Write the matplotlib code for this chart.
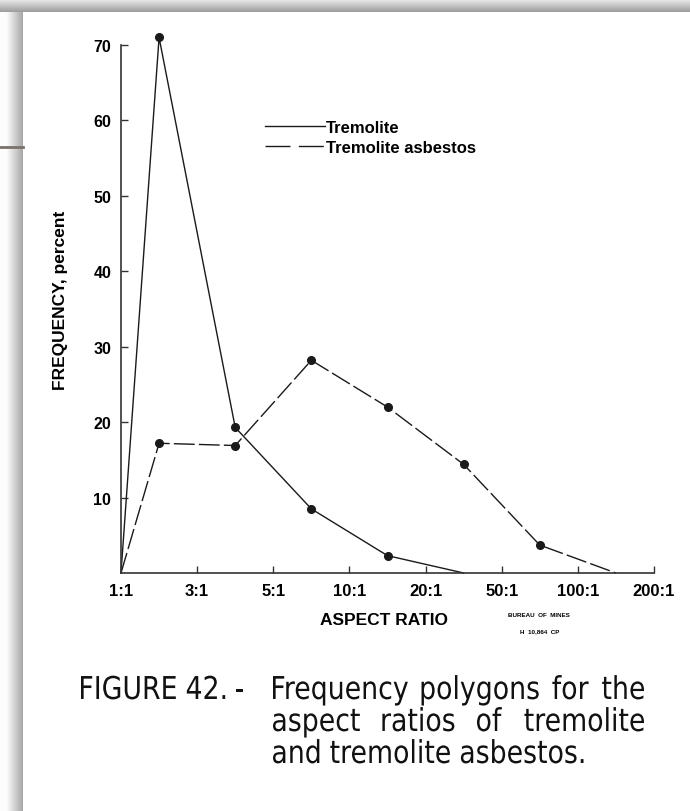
import numpy as np
import matplotlib.pyplot as plt
from matplotlib.lines import Line2D
from matplotlib.textpath import TextPath
from matplotlib.patches import PathPatch
from matplotlib.font_manager import FontProperties
import matplotlib.transforms as mtransforms

# aspect ratio classes along the x axis
ratio_labels = ['1:1', '3:1', '5:1', '10:1', '20:1', '50:1', '100:1', '200:1']

# polygon vertices sit at class midpoints (index units), closed to zero at the ends
tremolite_x = [0, 0.5, 1.5, 2.5, 3.5, 4.5]
tremolite_y = [0, 71.0, 19.3, 8.5, 2.3, 0]

asbestos_x = [0, 0.5, 1.5, 2.5, 3.5, 4.5, 5.5, 6.5]
asbestos_y = [0, 17.2, 16.9, 28.2, 22.0, 14.4, 3.7, 0]

yticks = [10, 20, 30, 40, 50, 60, 70]

caption = [
    ('FIGURE 42. -', 81, 700, None),
    ('Frequency polygons for the', 273, 700, 644),
    ('aspect ratios of tremolite', 273, 732, 644),
    ('and tremolite asbestos.', 273, 764, None),
]

ink = '#1a1a1a'
bold = dict(fontweight='bold', family='Liberation Sans')
W, H = 690, 812
fig = plt.figure(figsize=(W / 100, H / 100), dpi=100)

# page background in pixel coordinates, with the scan shadow on top and left
bg = fig.add_axes([0, 0, 1, 1], zorder=-10)
bg.set_xlim(0, W)
bg.set_ylim(H, 0)
bg.axis('off')
img = np.ones((H, W))
top = 13
left = 23
img[:top, :] = np.linspace(0.92, 0.62, top)[:, None]
grad = np.linspace(0.99, 0.66, left - 6)
img[top:, 6:left] = grad[None, :]
img[top:, :6] = 0.99
bg.imshow(img, cmap='gray', vmin=0, vmax=1, extent=(0, W, H, 0), aspect='auto',
          interpolation='bilinear')
bg.plot([0, left], [148, 148], color='#7a7068', lw=2)

# caption set in a condensed face: glyph outlines squeezed horizontally
cap_font = FontProperties(family='DejaVu Sans')
em = 31.5
squeeze = 0.85


def caption_line(text, x0, baseline, x1=None, gap=11):
    words = text.split(' ')
    paths = [TextPath((0, 0), w, size=em, prop=cap_font) for w in words]
    widths = [p.get_extents().width * squeeze for p in paths]
    if x1 is not None and len(words) > 1:
        gap = (x1 - x0 - sum(widths)) / (len(words) - 1)
    x = x0
    for p, w in zip(paths, widths):
        ext = p.get_extents()
        tr = (mtransforms.Affine2D().translate(-ext.x0, 0).scale(squeeze, -1)
              .translate(x, baseline))
        bg.add_patch(PathPatch(tr.transform_path(p), facecolor='#111111', lw=0))
        x += w + gap


for text, x0, base, x1 in caption:
    caption_line(text, x0, base, x1)

ax = fig.add_axes([121 / W, 1 - 574 / H, 533 / W, 528 / H])
ax.set_xlim(0, 7)
ax.set_ylim(0, 70)

ax.plot(tremolite_x, tremolite_y, color=ink, lw=1.0, clip_on=False)
ax.plot(asbestos_x, asbestos_y, color=ink, lw=1.0, dashes=(15, 3), clip_on=False)
# markers only on the nonzero vertices
ax.plot(tremolite_x[1:-1], tremolite_y[1:-1], 'o', color=ink, ms=5.5, clip_on=False)
ax.plot(asbestos_x[1:-1], asbestos_y[1:-1], 'o', color=ink, ms=5.5, clip_on=False)

for side in ['top', 'right']:
    ax.spines[side].set_visible(False)
for side in ['left', 'bottom']:
    ax.spines[side].set_color('#333333')
    ax.spines[side].set_linewidth(1.2)

ax.set_yticks(yticks)
ax.set_yticklabels([str(v) for v in yticks], fontsize=11.5, **bold)
ax.set_xticks(range(len(ratio_labels)))
ax.set_xticklabels(ratio_labels, fontsize=12, **bold)
ax.tick_params(axis='both', direction='in', length=5, width=1, color='#333333', pad=7)
ax.xaxis.get_major_ticks()[0].tick1line.set_visible(False)

handles = [Line2D([], [], color=ink, lw=1.0),
           Line2D([], [], color=ink, lw=1.0, dashes=(18, 6))]
fig.legend(handles, ['Tremolite', 'Tremolite asbestos'], loc='upper left',
           bbox_to_anchor=(265 / W, 1 - 121 / H), frameon=False, borderpad=0,
           borderaxespad=0, handlelength=3.6, handletextpad=0.05, labelspacing=0.3,
           prop={'family': 'Liberation Sans', 'weight': 'bold', 'size': 12})

fig.text(60 / W, 1 - 300 / H, 'FREQUENCY, percent', rotation=90, ha='center', va='center',
         fontsize=12.5, **bold)
fig.text(384 / W, 1 - 621 / H, 'ASPECT RATIO', ha='center', va='center',
         fontsize=12.5, **bold)
fig.text(539 / W, 1 - 616 / H, 'BUREAU  OF  MINES', ha='center', va='center',
         fontsize=4.5, **bold)
fig.text(540 / W, 1 - 632 / H, 'H  10,864  CP', ha='center', va='center',
         fontsize=4.5, **bold)

fig.savefig('out.png', dpi=100)
